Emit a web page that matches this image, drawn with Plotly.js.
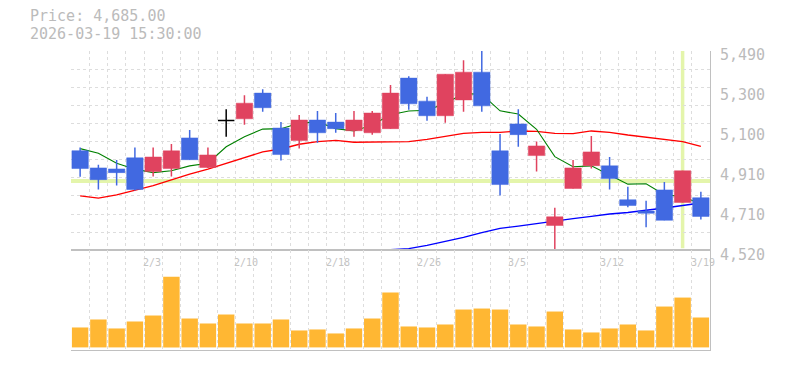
<!DOCTYPE html>
<html><head><meta charset="utf-8">
<script src="https://cdn.plot.ly/plotly-3.0.1.min.js"></script>
<style>html,body{margin:0;padding:0;background:#fff}#chart{width:785px;height:370px}</style>
</head><body><div id="chart"></div>
<script>
// ---- data ----
const dates = ['1/28','1/29','1/30','2/2','2/3','2/4','2/5','2/6','2/9','2/10','2/12','2/13','2/16','2/17','2/18','2/19','2/20','2/24','2/25','2/26','2/27','3/2','3/3','3/4','3/5','3/6','3/9','3/10','3/11','3/12','3/13','3/16','3/17','3/18','3/19'];
const open  = [5005,4921,4916,4970,4903,4918,5067,4923,5152,5160,5285,5115,5054,5154,5144,5102,5092,5112,5358,5246,5175,5252,5387,5004,5135,4981,4641,4821,4932,4931,4766,4711,4814,4753,4776];
const high  = [5020,4936,4960,5020,5020,5038,5105,5020,5207,5275,5304,5144,5178,5198,5188,5198,5198,5324,5367,5267,5377,5445,5490,5086,5207,5049,4727,4960,5076,4974,4829,4761,4853,4907,4805];
const low   = [4878,4816,4835,4811,4879,4879,4961,4920,5073,5131,5194,4957,5015,5044,5092,5073,5083,5112,5204,5151,5141,5194,5194,4787,5024,4903,4520,4821,4918,4816,4729,4632,4666,4753,4670];
const close = [4918,4864,4898,4816,4974,5004,4961,4984,5152,5236,5214,4986,5154,5092,5112,5154,5188,5285,5233,5175,5377,5387,5223,4840,5083,5028,4683,4921,4999,4869,4738,4700,4666,4907,4685];
const ma5   = [5015,4992,4944,4915,4898,4907,4931,4944,5024,5073,5110,5112,5138,5146,5112,5101,5130,5180,5198,5202,5235,5283,5279,5199,5183,5109,4976,4927,4931,4887,4842,4844,4790,4782,4745];
const ma25  = [4785,4774,4790,4811,4835,4863,4891,4915,4944,4973,4999,5013,5036,5049,5055,5046,5046,5046,5049,5060,5076,5089,5094,5094,5101,5099,5089,5088,5101,5094,5081,5071,5060,5049,5026];
const ma75  = [null,null,null,null,null,null,null,null,null,null,null,null,null,null,null,null,null,4523,4528,4544,4562,4583,4606,4627,4638,4651,4664,4674,4685,4697,4704,4714,4726,4738,4750];
const volume = [200,280,190,260,320,710,290,240,330,240,240,280,170,180,140,190,290,550,210,200,230,380,390,380,230,210,360,180,150,190,230,170,410,500,300];
const labelDates = ['2/3','2/10','2/18','2/26','3/5','3/12','3/19'];
const yTickVals = [4520,4714,4908,5102,5296,5490];
const yTickLabels = ['4,520','4,710','4,910','5,100','5,300','5,490'];
const lastTime = '2026-03-19 15:30:00';
const crossIdx = 33;
const crossPrice = 4857;

// ---- styles ----
const UP = '#e0435f', DOWN = '#4169e1', GRID = '#dddddd', FRAME = '#c0c0c0', TXT = '#bbbbbb', CROSS = '#e4f5ab';
const FONT = 'DejaVu Sans Mono';
const idx = dates.map((d, i) => i);
const yMin = 4520, yMax = 5490;
const volMax = 974, volMin = -26;
const priceDomLo = 0.3334;
const HALF = 0.45;

const upI = [], dnI = [], djI = [];
idx.forEach(i => { if (close[i] > open[i]) upI.push(i); else if (close[i] < open[i]) dnI.push(i); else djI.push(i); });

// candle bodies as filled scatter rectangles so that they stack above the average lines
function body(list, color) {
  const x = [], y = [];
  list.forEach(i => {
    x.push(i - HALF, i + HALF, i + HALF, i - HALF, i - HALF, null);
    y.push(open[i], open[i], close[i], close[i], open[i], null);
  });
  return {type:'scatter', mode:'lines', x:x, y:y, fill:'toself', fillcolor:color,
    line:{color:color, width:0.5}, xaxis:'x', yaxis:'y', hoverinfo:'skip', showlegend:false};
}
function wick(list, color) {
  const x = [], y = [];
  list.forEach(i => { x.push(i, i, null); y.push(low[i], high[i], null); });
  return {type:'scatter', mode:'lines', x:x, y:y, line:{color:color, width:1.5},
    xaxis:'x', yaxis:'y', hoverinfo:'skip', showlegend:false};
}
function dojiBars(list) {
  const x = [], y = [];
  list.forEach(i => { x.push(i - HALF, i + HALF, null); y.push(open[i], close[i], null); });
  return {type:'scatter', mode:'lines', x:x, y:y, line:{color:'#000', width:1.5},
    xaxis:'x', yaxis:'y', hoverinfo:'skip', showlegend:false};
}
function ma(vals, color, w) {
  return {type:'scatter', mode:'lines', x:idx, y:vals, line:{color:color, width:w},
    xaxis:'x', yaxis:'y', hoverinfo:'skip', showlegend:false, connectgaps:false};
}

const traces = [
  ma(ma75, '#0000ff', 1.4),
  ma(ma25, '#ff0000', 1.4),
  ma(ma5, '#008000', 1.1),
  wick(upI, UP), wick(dnI, DOWN), wick(djI, '#000'),
  body(upI, UP), body(dnI, DOWN), dojiBars(djI),
  {type:'bar', x:idx, y:volume, width:0.9, marker:{color:'#ffb733', line:{width:0}},
   xaxis:'x2', yaxis:'y2', hoverinfo:'skip', showlegend:false},
  {type:'scatter', x:[null], y:[null], xaxis:'x', yaxis:'y3', hoverinfo:'skip', showlegend:false}
];

const xCommon = {range:[-0.5, 34.5], tickmode:'linear', tick0:-0.5, dtick:1,
  showgrid:true, gridcolor:GRID, griddash:'dot', gridwidth:1, showticklabels:false, ticks:'',
  zeroline:false, showline:true, linecolor:FRAME, linewidth:1, fixedrange:true};

const annotations = [
  {xref:'paper', yref:'paper', x:0, y:1, xanchor:'left', yanchor:'middle', xshift:-43, yshift:34.8,
   text:'Price: ' + close[close.length - 1].toLocaleString('en-US', {minimumFractionDigits:2, maximumFractionDigits:2}),
   showarrow:false, font:{family:FONT, size:15, color:TXT}},
  {xref:'paper', yref:'paper', x:0, y:1, xanchor:'left', yanchor:'middle', xshift:-43, yshift:17.2,
   text:lastTime, showarrow:false, font:{family:FONT, size:15, color:TXT}}
];
labelDates.forEach(d => {
  annotations.push({xref:'x2', yref:'y2 domain', x:dates.indexOf(d), y:1, xanchor:'left', yanchor:'top',
    xshift:-12, yshift:-5, text:d, showarrow:false, font:{family:FONT, size:10, color:'#c4c4c4'}});
});

const layout = {
  width:785, height:370, margin:{l:71, r:75, t:51, b:20, pad:0},
  paper_bgcolor:'#fff', plot_bgcolor:'#fff', showlegend:false, barmode:'overlay', hovermode:false,
  font:{family:FONT, color:TXT},
  xaxis:Object.assign({}, xCommon, {domain:[0,1], anchor:'y'}),
  yaxis:{domain:[priceDomLo, 1], anchor:'x', side:'right', range:[yMin, yMax], tickmode:'array',
    tickvals:yTickVals, ticktext:yTickLabels, showgrid:false, zeroline:false, showline:true,
    linecolor:FRAME, linewidth:1, ticks:'', ticklabelstandoff:6, ticklabelshift:4,
    tickfont:{family:FONT, size:15, color:TXT}, fixedrange:true},
  yaxis3:{overlaying:'y', anchor:'x', side:'right', range:[yMin, yMax], tickmode:'linear', tick0:yMin,
    dtick:(yMax - yMin) / 11, showgrid:true, gridcolor:GRID, griddash:'dot', gridwidth:1,
    showticklabels:false, ticks:'', zeroline:false, showline:false, fixedrange:true},
  xaxis2:Object.assign({}, xCommon, {domain:[0,1], anchor:'y2', mirror:true}),
  yaxis2:{domain:[0, priceDomLo], anchor:'x2', side:'right', range:[volMin, volMax], showgrid:false,
    showticklabels:false, ticks:'', zeroline:false, showline:true, linecolor:FRAME, linewidth:1, fixedrange:true},
  shapes:[
    {type:'line', xref:'x', yref:'y', x0:-0.5, x1:34.5, y0:crossPrice, y1:crossPrice,
     line:{color:CROSS, width:4}, layer:'below'},
    {type:'line', xref:'x', yref:'y', x0:crossIdx, x1:crossIdx, y0:4530, y1:yMax,
     line:{color:CROSS, width:3.5}, layer:'below'}
  ],
  annotations:annotations
};

Plotly.newPlot('chart', traces, layout, {staticPlot:true, displayModeBar:false});
</script>
</body></html>
